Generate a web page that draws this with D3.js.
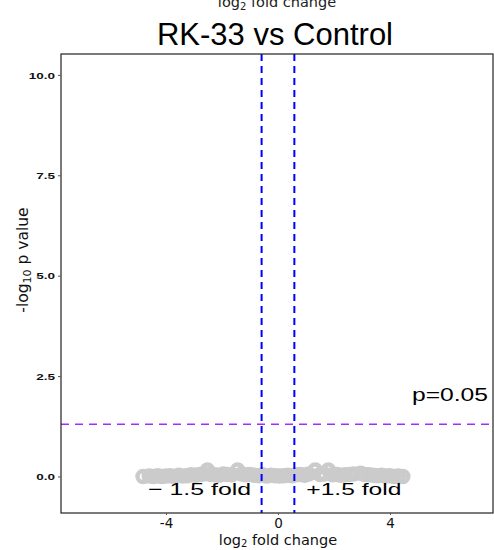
<!DOCTYPE html>
<html><head><meta charset="utf-8">
<script src="https://cdn.jsdelivr.net/npm/d3@7"></script>
<style>body{margin:0;background:#fff}svg{display:block}</style>
</head><body>
<svg id="c" width="494" height="550"></svg>
<script>
// ---- data ----
const log2FC = [-4.82,-4.6,-4.45,-4.3,-4.15,-4.0,-3.85,-3.7,-3.55,-3.4,-3.25,-3.1,-2.95,-2.8,-2.65,-2.52,-2.4,-2.25,-2.1,-1.95,-1.8,-1.65,-1.44,-1.3,-1.15,-1.0,-0.85,-0.7,-0.55,-0.4,-0.25,-0.1,0.05,0.2,0.35,0.5,0.65,0.8,0.95,1.1,1.33,1.5,1.65,1.8,1.95,2.1,2.25,2.4,2.55,2.7,2.95,3.1,3.25,3.4,3.55,3.7,3.85,4.0,4.15,4.3,4.46];
const negLog10P = [0.0,0.01,0.0,0.02,0.0,0.01,0.02,0.0,0.03,0.01,0.02,0.04,0.03,0.05,0.06,0.16,0.05,0.04,0.03,0.06,0.05,0.04,0.16,0.06,0.04,0.05,0.03,0.02,0.04,0.01,0.03,0.02,0.01,0.02,0.03,0.02,0.04,0.05,0.03,0.06,0.16,0.05,0.06,0.16,0.04,0.05,0.03,0.04,0.05,0.06,0.08,0.05,0.04,0.03,0.02,0.03,0.01,0.02,0.0,0.01,0.0];
const xTicks = [-4, 0, 4];
const yTicks = [0, 2.5, 5, 7.5, 10];
const foldCut = Math.log2(1.5);
const pCut = -Math.log10(0.05);
const title = "RK-33 vs Control";

// ---- layout ----
const svg = d3.select("#c");
const L = 61, R = 493, T = 54, B = 513;
const x = d3.scaleLinear().domain([-7.75, 7.68]).range([L, R]);
const y = d3.scaleLinear().domain([-0.91, 10.52]).range([B, T]);

// top duplicate axis title (cut off as in the reference)
svg.append("text").attr("x", 277).attr("y", 7).attr("text-anchor", "middle")
  .attr("font-family", "DejaVu Sans").attr("font-size", 14.5).attr("fill", "#222")
  .html('log<tspan dy="2.5" font-size="10">2</tspan><tspan dy="-2.5"> fold change</tspan>');

svg.append("text").attr("x", 275).attr("y", 45).attr("text-anchor", "middle")
  .attr("font-family", "Liberation Sans, Arial").attr("font-size", 31).attr("fill", "#000")
  .text(title);

// points
const g = svg.append("g");
g.selectAll("circle").data(log2FC).join("circle")
  .attr("cx", d => x(d)).attr("cy", (d, i) => y(negLog10P[i]))
  .attr("r", 5.5).attr("fill", "none").attr("stroke", "#cbcbcb").attr("stroke-width", 4.5);

// threshold lines
[-foldCut, foldCut].forEach(v => {
  svg.append("line").attr("x1", x(v)).attr("x2", x(v)).attr("y1", T).attr("y2", B)
    .attr("stroke", "#0000ff").attr("stroke-width", 2).attr("stroke-dasharray", "7,5");
});
svg.append("line").attr("x1", L).attr("x2", R).attr("y1", y(pCut)).attr("y2", y(pCut))
  .attr("stroke", "#9b30ff").attr("stroke-width", 1.5).attr("stroke-dasharray", "8,6");

// panel border
svg.append("rect").attr("x", L).attr("y", T).attr("width", R - L).attr("height", B - T)
  .attr("fill", "none").attr("stroke", "#222").attr("stroke-width", 1.2);

// annotations (stretched)
function stretched(txt, cx, by, size, w) {
  svg.append("text").attr("x", cx).attr("y", by).attr("text-anchor", "middle")
    .attr("font-family", "Liberation Sans, Arial").attr("font-size", size).attr("fill", "#000")
    .attr("textLength", w).attr("lengthAdjust", "spacingAndGlyphs").text(txt);
}
stretched("p=0.05", 450, 401, 18, 76);
stretched("\u2212 1.5 fold", x(-2.8), 495, 17, 103);
stretched("+1.5 fold", x(2.71), 495, 17, 95);

// y axis
const ya = svg.append("g").attr("transform", `translate(${L},0)`)
  .call(d3.axisLeft(y).tickValues(yTicks).tickFormat(d3.format(".1f")).tickSize(3).tickPadding(3));
ya.select(".domain").remove();
ya.selectAll("line").attr("stroke", "#555");
ya.selectAll("text").attr("font-family", "Liberation Sans, Arial").attr("font-weight", "bold")
  .attr("font-size", 9).attr("fill", "#111").attr("dy", "0.35em")
  .each(function () {
    const w = this.getComputedTextLength();
    d3.select(this).attr("textLength", w * 1.5).attr("lengthAdjust", "spacingAndGlyphs");
  });

// x axis
const xa = svg.append("g").attr("transform", `translate(0,${B})`)
  .call(d3.axisBottom(x).tickValues(xTicks).tickFormat(d => d).tickSize(2).tickPadding(3));
xa.select(".domain").remove();
xa.selectAll("line").attr("stroke", "#555");
xa.selectAll("text").attr("font-family", "DejaVu Sans").attr("font-size", 13.5).attr("fill", "#111");

// axis titles
svg.append("text").attr("x", 278).attr("y", 545).attr("text-anchor", "middle")
  .attr("font-family", "DejaVu Sans").attr("font-size", 14.5).attr("fill", "#111")
  .html('log<tspan dy="2" font-size="10">2</tspan><tspan dy="-2"> fold change</tspan>');
svg.append("text").attr("transform", "translate(28,260) rotate(-90)").attr("text-anchor", "middle")
  .attr("font-family", "DejaVu Sans").attr("font-size", 15.5).attr("fill", "#111")
  .html('-log<tspan dy="3" font-size="11">10</tspan><tspan dy="-3"> p value</tspan>');
</script>
</body></html>
